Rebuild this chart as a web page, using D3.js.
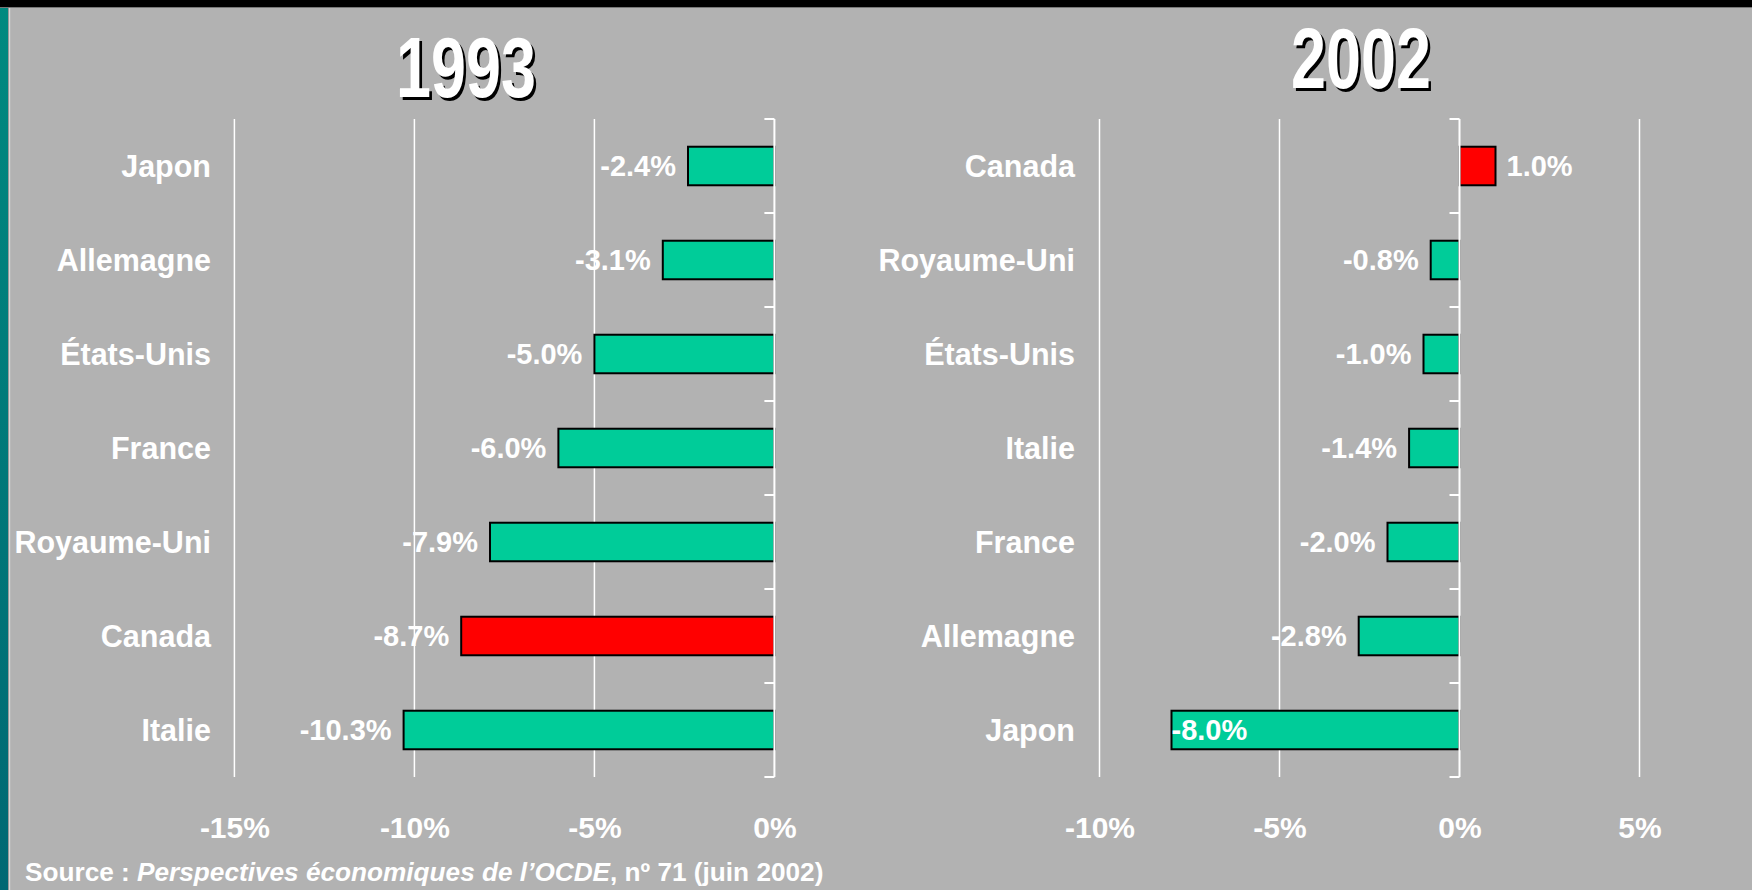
<!DOCTYPE html>
<html>
<head>
<meta charset="utf-8">
<script src="https://cdn.jsdelivr.net/npm/d3@7"></script>
<style>
  html, body { margin: 0; padding: 0; background: #B2B2B2; }
  svg { display: block; }
  text { font-family: "Liberation Sans", Arial, sans-serif; font-weight: bold; fill: #fff; }
</style>
</head>
<body>
<svg id="chart" width="1752" height="890"></svg>
<script>
// ---- data ----
const cats1993 = ["Japon", "Allemagne", "États-Unis", "France", "Royaume-Uni", "Canada", "Italie"];
const vals1993 = [-2.4, -3.1, -5.0, -6.0, -7.9, -8.7, -10.3];
const cats2002 = ["Canada", "Royaume-Uni", "États-Unis", "Italie", "France", "Allemagne", "Japon"];
const vals2002 = [1.0, -0.8, -1.0, -1.4, -2.0, -2.8, -8.0];
const ticks1993 = [-15, -10, -5, 0];
const ticks2002 = [-10, -5, 0, 5];
const domain1993 = [-15, 0];
const domain2002 = [-10, 5];
const titles = ["1993", "2002"];
const highlight = "Canada";
const sourcePieces = [
  { t: "Source : ", italic: false },
  { t: "Perspectives économiques de l’OCDE", italic: true },
  { t: ", nº 71 (juin 2002)", italic: false }
];

// ---- layout ----
const W = 1752, H = 890;
const svg = d3.select("#chart");
const BG = "#B2B2B2", GREEN = "#00CC99", RED = "#FF0000";

// background
svg.append("rect").attr("width", W).attr("height", H).attr("fill", BG);
const defs = svg.append("defs");
const grad = defs.append("linearGradient").attr("id", "teal").attr("x1", 0).attr("y1", 0).attr("x2", 0).attr("y2", 1);
grad.append("stop").attr("offset", "0%").attr("stop-color", "#008a80");
grad.append("stop").attr("offset", "100%").attr("stop-color", "#006873");
svg.append("rect").attr("x", 0).attr("y", 0).attr("width", 8).attr("height", H).attr("fill", "url(#teal)");
svg.append("rect").attr("x", 8).attr("y", 0).attr("width", 1).attr("height", H).attr("fill", "#999");
svg.append("rect").attr("x", 9).attr("y", 0).attr("width", 1.2).attr("height", H).attr("fill", "#d8d8d8");
svg.append("rect").attr("x", 0).attr("y", 0).attr("width", W).attr("height", 7).attr("fill", "#000");
svg.append("rect").attr("x", 0).attr("y", 7).attr("width", W).attr("height", 1).attr("fill", "#777");

const plotTop = 119, plotBottom = 777;
const fmt = v => v.toFixed(1) + "%";

function panel(cats, vals, ticks, domain, range, labelRight, title, titleX, titleY) {
  const g = svg.append("g");
  const x = d3.scaleLinear().domain(domain).range(range);
  const y = d3.scaleBand().domain(cats).range([plotTop, plotBottom]).paddingInner(0.59).paddingOuter(0.295);

  // gridlines
  g.append("g").selectAll("line").data(ticks.filter(t => t !== 0)).join("line")
    .attr("x1", d => x(d)).attr("x2", d => x(d))
    .attr("y1", plotTop).attr("y2", plotBottom)
    .attr("stroke", "#fff").attr("stroke-width", 1.5);

  // bars
  g.append("g").selectAll("rect").data(cats).join("rect")
    .attr("x", (d, i) => Math.min(x(vals[i]), x(0)))
    .attr("width", (d, i) => Math.abs(x(vals[i]) - x(0)))
    .attr("y", d => y(d))
    .attr("height", y.bandwidth())
    .attr("fill", d => d === highlight ? RED : GREEN)
    .attr("stroke", "#000").attr("stroke-width", 2);

  // zero axis with outer ticks (category boundaries)
  const step = y.step();
  const bounds = d3.range(cats.length + 1).map(i => plotTop + i * step);
  g.append("line").attr("x1", x(0)).attr("x2", x(0)).attr("y1", plotTop).attr("y2", plotBottom)
    .attr("stroke", "#fff").attr("stroke-width", 2);
  g.append("g").selectAll("line").data(bounds).join("line")
    .attr("x1", x(0) - 10).attr("x2", x(0)).attr("y1", d => d).attr("y2", d => d)
    .attr("stroke", "#fff").attr("stroke-width", 2);

  // value labels
  const plotLeft = range[0];
  g.append("g").selectAll("text").data(cats).join("text")
    .attr("y", d => y(d) + y.bandwidth() / 2)
    .attr("dy", "0.35em")
    .style("font-size", "29px")
    .text((d, i) => fmt(vals[i]))
    .each(function (d, i) {
      const v = vals[i];
      const sel = d3.select(this);
      const w = this.getComputedTextLength();
      if (v >= 0) {
        sel.attr("x", x(v) + 11).attr("text-anchor", "start");
      } else {
        let xe = x(v) - 12;
        if (xe - w < plotLeft) {
          sel.attr("x", x(v)).attr("text-anchor", "start");
        } else {
          sel.attr("x", xe).attr("text-anchor", "end");
        }
      }
    });

  // category axis (labels)
  const yAxis = d3.axisLeft(y).tickSize(0).tickPadding(0);
  const ya = g.append("g").attr("transform", `translate(${labelRight},0)`).call(yAxis);
  ya.select(".domain").remove();
  ya.attr("font-family", null).attr("font-size", null);
  ya.selectAll("text").style("font-size", "30.5px").attr("fill", "#fff")
    .attr("x", 0).attr("dy", "0.35em");

  // x tick labels
  const xAxis = d3.axisBottom(x).tickValues(ticks).tickFormat(d => d + "%").tickSize(0).tickPadding(0);
  const xa = g.append("g").attr("transform", "translate(0,827)").call(xAxis);
  xa.select(".domain").remove();
  xa.attr("font-family", null).attr("font-size", null);
  xa.selectAll("text").style("font-size", "30px").attr("fill", "#fff").attr("y", 0).attr("dy", "0.35em");

  // title with shadow
  const tg = g.append("g").attr("transform", `translate(${titleX},${titleY}) scale(0.74,1)`);
  tg.append("text").attr("x", 3.5).attr("y", 3).attr("text-anchor", "middle")
    .style("font-size", "85px").style("fill", "#000").text(title);
  tg.append("text").attr("x", 0).attr("y", 0).attr("text-anchor", "middle")
    .style("font-size", "85px").style("fill", "#fff").text(title);
}

panel(cats1993, vals1993, ticks1993, domain1993, [234.4, 774.4], 211, titles[0], 466, 97);
panel(cats2002, vals2002, ticks2002, domain2002, [1099.5, 1639.5], 1075, titles[1], 1361, 88);

// source line
const src = svg.append("text").attr("x", 25).attr("y", 872).attr("dy", "0.35em").style("font-size", "26.2px");
src.selectAll("tspan").data(sourcePieces).join("tspan")
  .style("font-style", d => d.italic ? "italic" : "normal")
  .text(d => d.t);
</script>
</body>
</html>
